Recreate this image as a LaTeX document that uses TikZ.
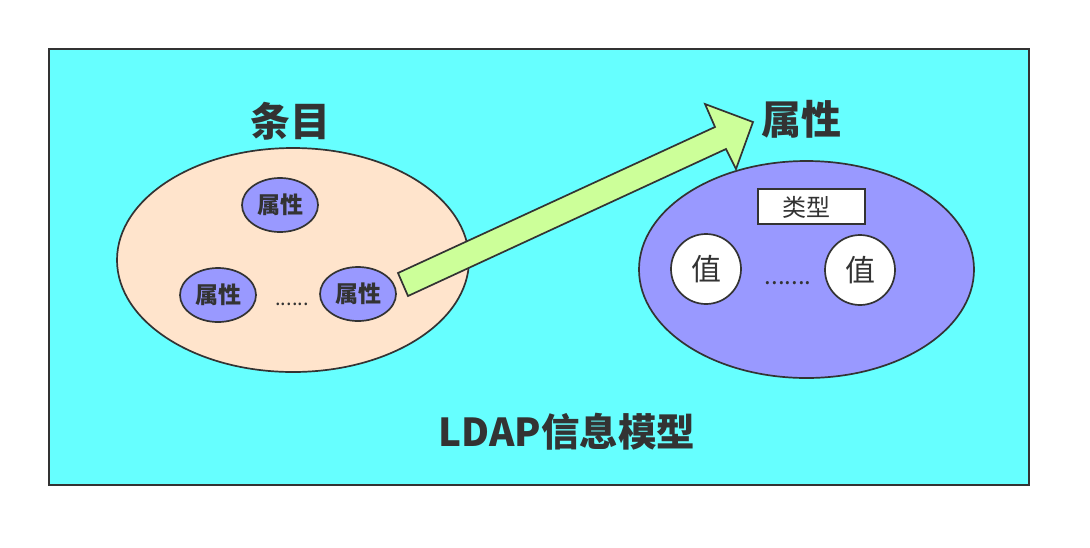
\documentclass[tikz,border=0pt]{standalone}
\usepackage{fontspec}
\setmainfont{Noto Sans CJK SC}
\definecolor{bgcyan}{HTML}{66FFFF}
\definecolor{peach}{HTML}{FFE4CC}
\definecolor{lilac}{HTML}{9999FF}
\definecolor{lime}{HTML}{CCFF99}
\definecolor{ink}{HTML}{333333}
\tikzset{
  outl/.style={draw=ink, line width=1.7pt},
  attr/.style={outl, fill=lilac, ellipse, minimum width=76pt, minimum height=54pt, inner sep=0pt, font=\fontsize{23}{23}\selectfont\bfseries, text=ink},
  valc/.style={outl, fill=white, circle, minimum size=70pt, inner sep=0pt, font=\fontsize{30}{30}\selectfont, text=ink},
  title/.style={font=\fontsize{40}{40}\selectfont\bfseries, text=ink, inner sep=0pt},
}
\usetikzlibrary{shapes.geometric}
\begin{document}
\begin{tikzpicture}[x=1pt,y=-1pt]
\useasboundingbox (0,0) rectangle (1090,547);
\fill[white] (0,0) rectangle (1090,547);
\node[outl, fill=bgcyan, rectangle, minimum width=980pt, minimum height=436pt, inner sep=0pt, anchor=north west] (frame) at (48,48) {};
% left ellipse
\node[outl, fill=peach, ellipse, minimum width=352pt, minimum height=224pt, inner sep=0pt] (entry) at (293,260) {};
\node[title] (entrytitle) at (290,121) {条目};
\node[attr] (a1) at (280,205) {属性};
\node[attr] (a2) at (218,295) {属性};
\node[attr] (a3) at (358,294) {属性};
\node[font=\fontsize{20}{20}\selectfont, text=ink, inner sep=0pt, anchor=base] (ldots) at (292,305) {......};
% right ellipse
\node[outl, fill=lilac, ellipse, minimum width=335pt, minimum height=217pt, inner sep=0pt] (attr) at (806.5,269.5) {};
\node[title] (attrtitle) at (801,119) {属性};
\node[outl, fill=white, rectangle, minimum width=107pt, minimum height=35pt, inner sep=0pt] (type) at (811.5,206.5) {};
\node[font=\fontsize{24}{24}\selectfont, text=ink, inner sep=0pt] (typetext) at (806,207) {类型};
\node[valc] (v1) at (706,269) {值};
\node[valc] (v2) at (860,270) {值};
\node[font=\fontsize{24}{24}\selectfont, text=ink, inner sep=0pt, anchor=base] (rdots) at (788,284) {.......};
% block arrow
\coordinate (t1) at (408,296);
\coordinate (t2) at (398,273);
\coordinate (h1) at (715,127);
\coordinate (h2) at (705,104);
\coordinate (tip) at (753,122);
\coordinate (h3) at (736,169);
\coordinate (h4) at (726,149);
\draw[outl, fill=lime, line join=miter] (t1) -- (t2) -- (h1) -- (h2) -- (tip) -- (h3) -- (h4) -- cycle;
\node[title, font=\fontsize{38.5}{38.5}\selectfont\bfseries] (model) at (567,432) {LDAP信息模型};
\end{tikzpicture}
\end{document}
